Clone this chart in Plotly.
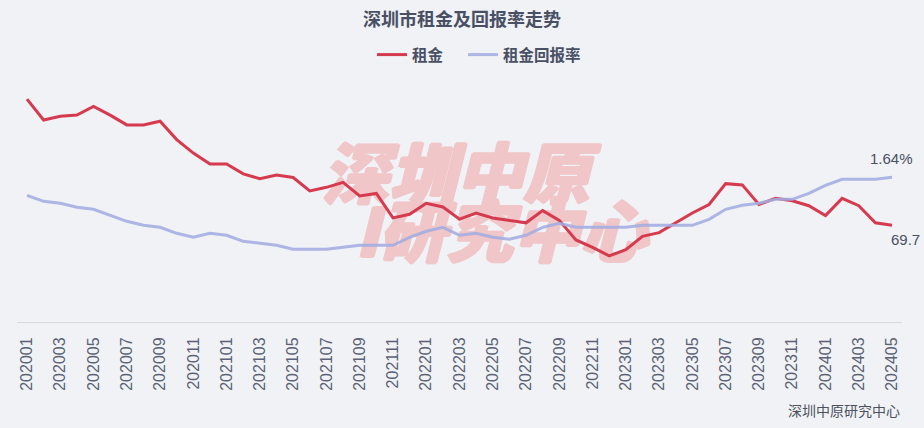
import plotly.graph_objects as go

months = [f"{y}{m:02d}" for y in (2020, 2021, 2022, 2023, 2024) for m in range(1, 13)][:53]

rent = [80.0, 78.3, 78.6, 78.7, 79.4, 78.7, 77.9, 77.9, 78.2, 76.7, 75.6, 74.7,
        74.7, 73.9, 73.5, 73.8, 73.6, 72.5, 72.8, 73.2, 72.1, 72.3, 70.3, 70.6,
        71.5, 71.2, 70.2, 70.7, 70.3, 70.1, 69.9, 70.9, 70.1, 68.5, 67.9, 67.2,
        67.7, 68.8, 69.1, 69.9, 70.7, 71.4, 73.1, 73.0, 71.4, 71.9, 71.7, 71.3,
        70.5, 71.9, 71.3, 69.9, 69.7]

rate = [1.55, 1.52, 1.51, 1.49, 1.48, 1.45, 1.42, 1.40, 1.39, 1.36, 1.34, 1.36,
        1.35, 1.32, 1.31, 1.30, 1.28, 1.28, 1.28, 1.29, 1.30, 1.30, 1.30, 1.34,
        1.37, 1.39, 1.35, 1.36, 1.34, 1.33, 1.35, 1.39, 1.41, 1.39, 1.39, 1.39,
        1.39, 1.40, 1.40, 1.40, 1.40, 1.43, 1.48, 1.50, 1.51, 1.53, 1.53, 1.56,
        1.60, 1.63, 1.63, 1.63, 1.64]

tick_labels = months[::2]

FONT = "Liberation Sans, Noto Sans CJK SC, sans-serif"
CJK = "Noto Sans CJK SC, sans-serif"
BG = "#f0f2f5"
RED = "#d63a4e"
BLUE = "#a3ade2"
TXT = "#4a5064"
WM = "#f0c6c8"

fig = go.Figure()
fig.add_trace(go.Scatter(x=months, y=rent, name="租金", mode="lines", legend="legend",
                         line=dict(color=RED, width=3), yaxis="y"))
fig.add_trace(go.Scatter(x=months, y=rate, name="租金回报率", mode="lines", legend="legend2",
                         line=dict(color=BLUE, width=3), opacity=0.88, yaxis="y2"))

W, H = 924, 428
L, R, T, B = 17, 22, 90, 106
pw, ph = W - L - R, H - T - B


def px2paper(px, py):
    return (px - L) / pw, (H - B - py) / ph


wm_font = dict(family=CJK, size=67, color=WM, weight=900, style="italic")
for text, cx, cy in [("深圳中原", 456, 180), ("I研究中心", 501, 238)]:
    for dx, dy in [(-1.5, 0), (0, 0), (1.5, 0), (0, -1), (0, 1)]:
        xp, yp = px2paper(cx + dx, cy + dy)
        fig.add_shape(type="rect", xref="paper", yref="paper",
                      x0=xp - 0.05, x1=xp + 0.05, y0=yp - 0.05, y1=yp + 0.05,
                      line=dict(width=0), fillcolor="rgba(0,0,0,0)", layer="below",
                      label=dict(text=text, textposition="middle center", font=wm_font))

last = len(months) - 1
fig.add_annotation(x=last, y=rate[-1], xref="x", yref="y2", text=f"{rate[-1]:.2f}%",
                   showarrow=False, yshift=19, xshift=-1,
                   font=dict(family=FONT, size=15, color=TXT))
fig.add_annotation(x=last, y=rent[-1], xref="x", yref="y", text=f"{rent[-1]}",
                   showarrow=False, yshift=-14, xshift=13,
                   font=dict(family=FONT, size=15, color=TXT))

fig.add_annotation(xref="paper", yref="paper", x=1.0, y=px2paper(0, 410)[1],
                   xanchor="right", yanchor="middle", text="深圳中原研究中心",
                   showarrow=False, font=dict(family=CJK, size=14, color="#4d5160"))

leg_common = dict(orientation="h", xanchor="left", y=1 - 55 / H, yanchor="middle",
                  yref="container", font=dict(family=CJK, size=15.5, color=TXT, weight="bold"),
                  bgcolor="rgba(0,0,0,0)", itemwidth=30)

fig.update_layout(
    width=W, height=H,
    margin=dict(l=L, r=R, t=T, b=B),
    paper_bgcolor=BG, plot_bgcolor=BG,
    title=dict(text="<b>深圳市租金及回报率走势</b>", x=0.5, xanchor="center",
               y=1 - 20 / H, yanchor="middle", yref="container",
               font=dict(family=CJK, size=18, color=TXT)),
    legend=dict(x=px2paper(372, 0)[0], **leg_common),
    legend2=dict(x=px2paper(463, 0)[0], **leg_common),
    showlegend=True,
    xaxis=dict(type="category", range=[-0.6, 52.6], tickmode="array", tickvals=tick_labels,
               ticktext=tick_labels, tickangle=-90, showgrid=False, zeroline=False,
               showline=True, linecolor="#d7d9de", linewidth=1, ticks="",
               ticklabelstandoff=8,
               tickfont=dict(family=FONT, size=16, color="#5b6275")),
    yaxis=dict(range=[61.80, 80.75], visible=False, showgrid=False),
    yaxis2=dict(range=[0.9165, 2.0765], visible=False, showgrid=False,
                overlaying="y", side="right"),
)

fig.write_html("out.html", config={"displayModeBar": False},
               post_script="document.body.style.margin='0';")
